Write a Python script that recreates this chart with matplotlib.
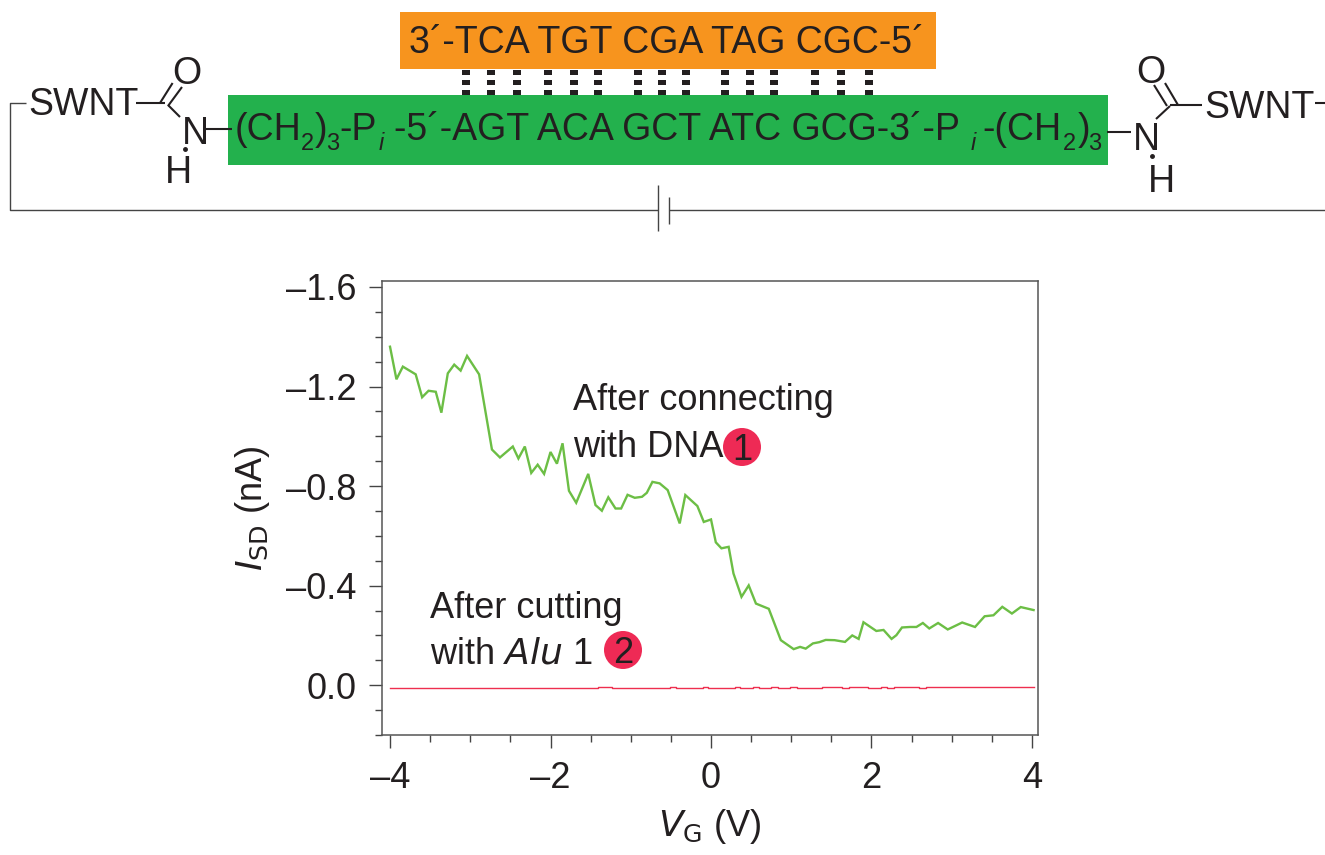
import matplotlib
matplotlib.use("Agg")
import matplotlib.pyplot as plt
from matplotlib.patches import Circle, Rectangle
from matplotlib.ticker import MultipleLocator

# data
vg_dna = [-4.00, -3.92, -3.84, -3.68, -3.60, -3.52, -3.43, -3.36, -3.28, -3.20, -3.12, -3.04, -2.89, -2.73,
          -2.63, -2.47, -2.40, -2.32, -2.24, -2.16, -2.08, -2.00, -1.92, -1.85, -1.77, -1.68, -1.53, -1.44,
          -1.36, -1.28, -1.19, -1.12, -1.04, -0.95, -0.86, -0.80, -0.73, -0.64, -0.54, -0.39, -0.32, -0.17,
          -0.09, 0.00, 0.06, 0.13, 0.22, 0.28, 0.38, 0.47, 0.56, 0.72, 0.87, 1.03, 1.11, 1.18, 1.27, 1.35,
          1.43, 1.54, 1.67, 1.76, 1.84, 1.90, 2.06, 2.15, 2.25, 2.31, 2.38, 2.48, 2.56, 2.64, 2.72, 2.83,
          2.95, 3.06, 3.13, 3.29, 3.41, 3.52, 3.63, 3.75, 3.86, 4.02]
isd_dna = [-1.360, -1.229, -1.280, -1.249, -1.157, -1.183, -1.179, -1.095, -1.253, -1.288, -1.264, -1.323,
           -1.249, -0.947, -0.915, -0.959, -0.911, -0.959, -0.853, -0.886, -0.849, -0.937, -0.890, -0.972,
           -0.781, -0.733, -0.849, -0.724, -0.701, -0.755, -0.710, -0.710, -0.765, -0.753, -0.757, -0.773,
           -0.817, -0.811, -0.784, -0.650, -0.764, -0.720, -0.656, -0.666, -0.574, -0.550, -0.556, -0.449,
           -0.355, -0.401, -0.328, -0.307, -0.181, -0.145, -0.154, -0.147, -0.168, -0.173, -0.182, -0.181,
           -0.174, -0.200, -0.186, -0.253, -0.218, -0.222, -0.186, -0.201, -0.232, -0.234, -0.234, -0.250,
           -0.228, -0.250, -0.224, -0.241, -0.252, -0.234, -0.277, -0.281, -0.315, -0.288, -0.314, -0.302]

vg_alu = [-4.00, -1.41, -1.23, -0.51, -0.44, -0.10, -0.04, 0.30, 0.36, 0.52, 0.60, 0.75, 0.84, 0.99, 1.07,
          1.38, 1.63, 1.72, 1.96, 2.12, 2.19, 2.28, 2.59, 2.68, 4.02]
isd_alu = [0.010, 0.006, 0.010, 0.006, 0.010, 0.006, 0.010, 0.006, 0.010, 0.006, 0.010, 0.006, 0.010, 0.006,
           0.010, 0.006, 0.010, 0.006, 0.010, 0.006, 0.010, 0.006, 0.010, 0.006, 0.006]

x_ticks = [-4, -2, 0, 2, 4]
x_labels = ["–4", "–2", "0", "2", "4"]
y_ticks = [-1.6, -1.2, -0.8, -0.4, 0.0]
y_labels = ["–1.6", "–1.2", "–0.8", "–0.4", "0.0"]

# base pair columns in the top sketch (pixels)
pair_x = [466, 491, 517, 548, 574, 598, 638, 662, 686, 725, 750, 774, 815, 841, 869]
pair_y = [70, 80, 90]

ink = "#231f20"
narrow = ["Liberation Sans Narrow", "Liberation Sans"]
plt.rcParams["font.family"] = narrow
plt.rcParams["mathtext.fontset"] = "custom"
plt.rcParams["mathtext.rm"] = "Liberation Sans Narrow"
plt.rcParams["mathtext.it"] = "Liberation Sans Narrow:italic"

W, H = 1325, 855
fig = plt.figure(figsize=(W / 100, H / 100), dpi=100)

# chart
ax = fig.add_axes([382 / W, 1 - 735 / H, (1038 - 382) / W, (735 - 281) / H])
ax.plot(vg_dna, isd_dna, color="#6cbe45", lw=1.7, solid_joinstyle="miter")
ax.plot(vg_alu, isd_alu, color="#ee2f4f", lw=1.0, drawstyle="steps-post")
ax.set_xlim(-4.1, 4.075)
ax.set_ylim(0.2, -1.624)
ax.set_xticks(x_ticks, x_labels)
ax.set_yticks(y_ticks, y_labels)
ax.xaxis.set_minor_locator(MultipleLocator(0.5))
ax.yaxis.set_minor_locator(MultipleLocator(0.1))
ax.tick_params(which="major", length=9.5, width=1.0, color="#444444", labelsize=26, labelcolor=ink, pad=9)
ax.tick_params(which="minor", length=5, width=1.0, color="#444444")
for s in ax.spines.values():
    s.set_linewidth(1.1)
    s.set_color("#555555")
ax.set_xlabel(r"$\mathit{V}_{\mathrm{G}}$ (V)", fontsize=26, color=ink, labelpad=8)
ax.set_ylabel(r"$\mathit{I}_{\mathrm{SD}}$ (nA)", fontsize=26, color=ink, labelpad=10)

# overlay in pixel coordinates for the sketch and the notes
ov = fig.add_axes([0, 0, 1, 1])
ov.set_xlim(0, W)
ov.set_ylim(H, 0)
ov.axis("off")


def txt(x, y, s, size=27, family="Liberation Sans", **kw):
    ov.text(x, y, s, fontsize=size, family=family, color=ink, ha=kw.pop("ha", "left"), va="baseline", **kw)


def line(xs, ys, lw=1.5, color=ink):
    ov.plot(xs, ys, color=color, lw=lw, solid_capstyle="butt")


ov.add_patch(Rectangle((400, 12), 536, 57, color="#f7941e", lw=0))
ov.add_patch(Rectangle((228, 95), 880, 70, color="#23b14d", lw=0))
for px in pair_x:
    for py in pair_y:
        ov.add_patch(Rectangle((px - 4, py), 8, 5, color=ink, lw=0))

txt(409, 53, "3´-TCA TGT CGA TAG CGC-5´")

# green strand, left to right
txt(235, 140, "(CH")
txt(301, 150, "2", size=17)
txt(315, 140, ")")
txt(326, 150, "3", size=17)
txt(339, 140, "-P")
txt(379, 150, "i", size=17, style="italic")
txt(394, 140, "-5´-AGT ACA GCT ATC GCG-3´-P")
txt(971, 150, "i", size=17, style="italic")
txt(982, 140, "-(CH")
txt(1063, 150, "2", size=17)
txt(1078, 140, ")")
txt(1088, 150, "3", size=17)

# left linker
txt(28, 115, "SWNT")
txt(172, 84, "O")
txt(182, 144, "N")
txt(165, 183, "H")
line([136, 165], [103, 103])
line([160, 172.6], [103, 83])
line([168, 182], [106, 87])
line([168, 180], [105, 117])
line([206, 232], [129, 129])
ov.plot([185], [149], "o", ms=2.5, color=ink)

# right linker
txt(1204, 118, "SWNT")
txt(1136, 83, "O")
txt(1133, 150, "N")
txt(1148, 192, "H")
line([1107, 1131], [132, 132])
line([1156, 1170], [119, 106])
line([1154, 1167], [85, 106])
line([1165, 1178], [83, 105])
line([1170, 1202], [105, 105])
line([1315, 1325], [103, 103])
ov.plot([1152], [156], "o", ms=2.5, color=ink)

# wire and capacitor
line([26, 10, 10, 658], [103, 103, 210, 210], lw=1.0, color="#444444")
line([658, 658], [185, 231], lw=1.0, color="#444444")
line([668.5, 668.5], [197, 224], lw=1.0, color="#444444")
line([668.5, 1325], [210, 210], lw=1.0, color="#444444")

# notes
txt(573, 410, "After connecting", size=26, family=narrow)
txt(573, 457, "with DNA", size=26, family=narrow)
txt(430, 618, "After cutting", size=26, family=narrow)
txt(430, 663, r"with $\mathit{Alu}$ 1", size=26, family=narrow)
ov.add_patch(Circle((742, 447), 19, color="#ee2a55", lw=0))
ov.add_patch(Circle((623, 650), 19, color="#ee2a55", lw=0))
txt(742, 460, "1", size=26, family=narrow, ha="center")
txt(623, 663, "2", size=26, family=narrow, ha="center")

fig.savefig("out.png", dpi=100)
